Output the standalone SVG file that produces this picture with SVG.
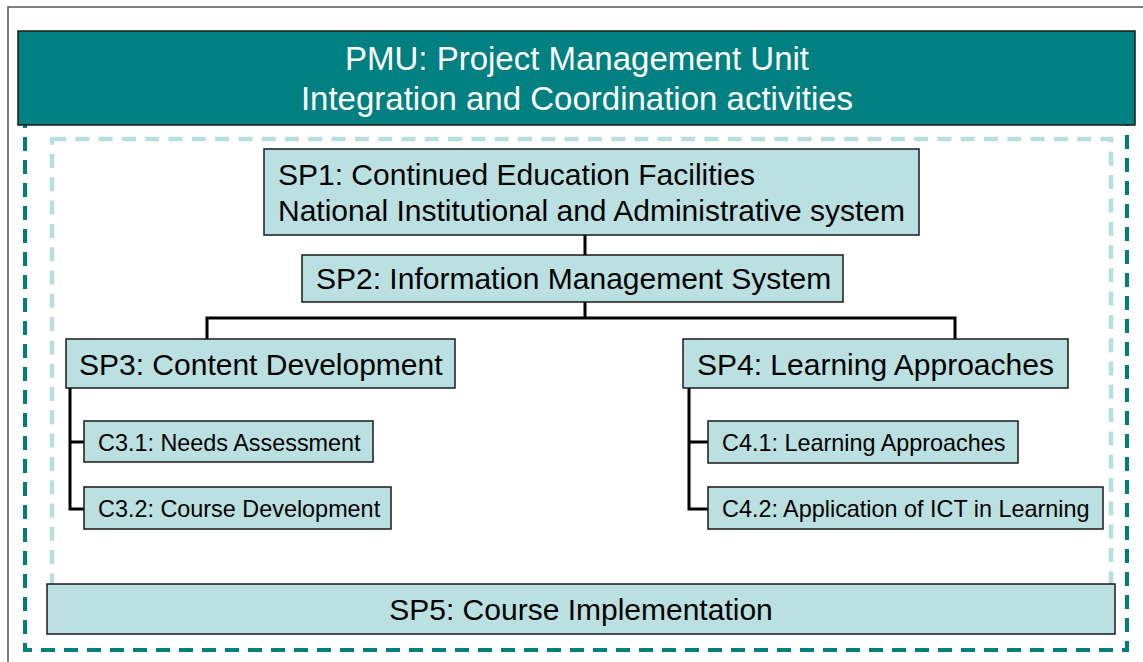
<svg xmlns="http://www.w3.org/2000/svg" width="1143" height="662" viewBox="0 0 1143 662">
<style>
text{font-family:"Liberation Sans",Arial,sans-serif;fill:#000}
.box{fill:#bae0e2;stroke:#1a1a1a;stroke-width:1.5}
.big{font-size:30px}
.small{font-size:23.4px}
.conn{fill:none;stroke:#000;stroke-width:3}
</style>
<rect x="8" y="7" width="1145" height="665" fill="#fff" stroke="#555" stroke-width="1.5"/>
<rect id="outer-dash" x="25" y="110" width="1102" height="540" fill="none" stroke="#00807a" stroke-width="4" stroke-dasharray="14 9"/>
<rect id="inner-dash" x="52" y="139" width="1059" height="470" fill="none" stroke="#b7dfe0" stroke-width="4.5" stroke-dasharray="14 9.3"/>
<g id="pmu">
<rect x="18" y="31" width="1117" height="94" fill="#008080" stroke="#1a1a1a" stroke-width="1.5"/>
<text x="577" y="70" text-anchor="middle" font-size="33" style="fill:#fff">PMU: Project Management Unit</text>
<text x="577" y="110" text-anchor="middle" font-size="33" style="fill:#fff">Integration and Coordination activities</text>
</g>
<g id="connectors">
<path class="conn" d="M585 235V255M585 302V318M207 339V318H955V339"/>
<path class="conn" d="M70 388V509H84M70 442H84"/>
<path class="conn" d="M689 388V509H708M689 442H708"/>
</g>
<g id="sp1">
<rect class="box" x="264" y="149" width="655" height="86"/>
<text class="big" x="278" y="185">SP1: Continued Education Facilities</text>
<text class="big" x="278" y="221">National Institutional and Administrative system</text>
</g>
<g id="sp2">
<rect class="box" x="302" y="255" width="541" height="47"/>
<text class="big" x="316" y="289">SP2: Information Management System</text>
</g>
<g id="sp3">
<rect class="box" x="66" y="339" width="389" height="49"/>
<text class="big" x="79" y="375">SP3: Content Development</text>
</g>
<g id="sp4">
<rect class="box" x="683" y="339" width="385" height="49"/>
<text class="big" x="697" y="375">SP4: Learning Approaches</text>
</g>
<g id="c31">
<rect class="box" x="84" y="421" width="289" height="41"/>
<text class="small" x="98" y="451">C3.1: Needs Assessment</text>
</g>
<g id="c32">
<rect class="box" x="84" y="487" width="307" height="42"/>
<text class="small" x="98" y="517">C3.2: Course Development</text>
</g>
<g id="c41">
<rect class="box" x="708" y="421" width="310" height="42"/>
<text class="small" x="722" y="451">C4.1: Learning Approaches</text>
</g>
<g id="c42">
<rect class="box" x="708" y="487" width="395" height="42"/>
<text class="small" x="722" y="517">C4.2: Application of ICT in Learning</text>
</g>
<g id="sp5">
<rect class="box" x="47" y="584" width="1068" height="50"/>
<text class="big" x="581" y="620" text-anchor="middle">SP5: Course Implementation</text>
</g>
</svg>
